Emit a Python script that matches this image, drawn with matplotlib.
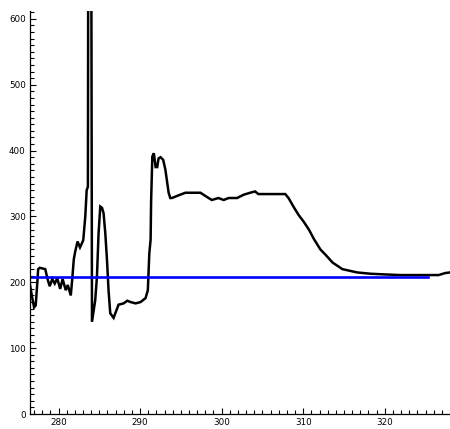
import matplotlib
matplotlib.use("Agg")
import matplotlib.pyplot as plt
from matplotlib.ticker import MultipleLocator

# ---- data ----
x_vals = [276.5, 276.75, 277.0, 277.2, 277.4, 277.5, 277.7, 278.37, 278.67, 278.92,
          279.23, 279.53, 279.84, 280.2, 280.5, 280.88, 281.13, 281.5, 281.68, 281.87,
          282.05, 282.33, 282.63, 282.82, 283.03, 283.28, 283.45, 283.6, 283.62, 283.72,
          283.9, 284.1, 284.5, 284.71, 284.91, 285.12, 285.33, 285.52, 285.73, 285.94,
          286.13, 286.34, 286.75, 286.96, 287.36, 287.98, 288.43, 288.83, 289.45, 290.06,
          290.67, 290.95, 291.13, 291.29, 291.35, 291.5, 291.69, 291.9, 292.1, 292.26,
          292.5, 292.83, 293.1, 293.5, 293.7, 293.9, 294.5, 295.55, 297.4, 298.4,
          298.8, 299.6, 300.25, 300.86, 301.9, 302.7, 303.5, 304.1, 304.5, 307.8,
          308.2, 308.8, 309.45, 310.06, 310.7, 311.3, 312.1, 312.8, 313.6, 314.8,
          316.6, 318.25, 319.9, 321.9, 325.2, 326.6, 327.4, 328.0]
y_vals = [196, 178, 162, 165, 200, 220, 222, 220, 204, 194,
          205, 198, 206, 190, 205, 188, 196, 180, 205, 235,
          247, 262, 253, 258, 264, 300, 340, 345, 510, 1500,
          1500, 140, 173, 209, 275, 315, 313, 305, 275, 234,
          188, 153, 146, 153, 166, 168, 172, 170, 168, 170,
          176, 188, 244, 265, 323, 391, 396, 375, 375, 388,
          390, 386, 371, 336, 328, 328, 331, 336, 336, 328,
          325, 328, 325, 328, 328, 333, 336, 338, 334, 334,
          328, 315, 302, 292, 280, 266, 250, 241, 230, 220,
          215, 213, 212, 211, 211, 211, 214, 215]

baseline_value = 208
baseline_x = [276.5, 325.3]

x_ticks = [280, 290, 300, 310, 320]
x_tick_labels = ["280", "290", "300", "310", "320"]
y_ticks = [0, 100, 200, 300, 400, 500, 600]
y_tick_labels = ["0", "100", "200", "300", "400", "500", "600"]

# ---- figure ----
fig = plt.figure(figsize=(4.5, 4.29), dpi=100)
ax = fig.add_axes([30 / 450, 15 / 429, 1 - 30 / 450, (414 - 11) / 429])

ax.plot(x_vals, y_vals, color="black", linewidth=1.8, solid_joinstyle="miter")
ax.plot(baseline_x, [baseline_value, baseline_value], color="#0000ff", linewidth=1.9)

ax.set_xlim(276.5, 328.0)
ax.set_ylim(0, 612)

ax.spines["top"].set_visible(False)
ax.spines["right"].set_visible(False)
for s in ("left", "bottom"):
    ax.spines[s].set_linewidth(0.9)

ax.set_xticks(x_ticks)
ax.set_xticklabels(x_tick_labels)
ax.set_yticks(y_ticks)
ax.set_yticklabels(y_tick_labels)
ax.xaxis.set_minor_locator(MultipleLocator(1))
ax.yaxis.set_minor_locator(MultipleLocator(10))

ax.tick_params(which="major", direction="in", length=4.5, width=0.8,
               labelsize=6.3, pad=3, top=False, right=False)
ax.tick_params(which="minor", direction="in", length=2.6, width=0.8,
               top=False, right=False)

fig.savefig("out.png", dpi=100)
